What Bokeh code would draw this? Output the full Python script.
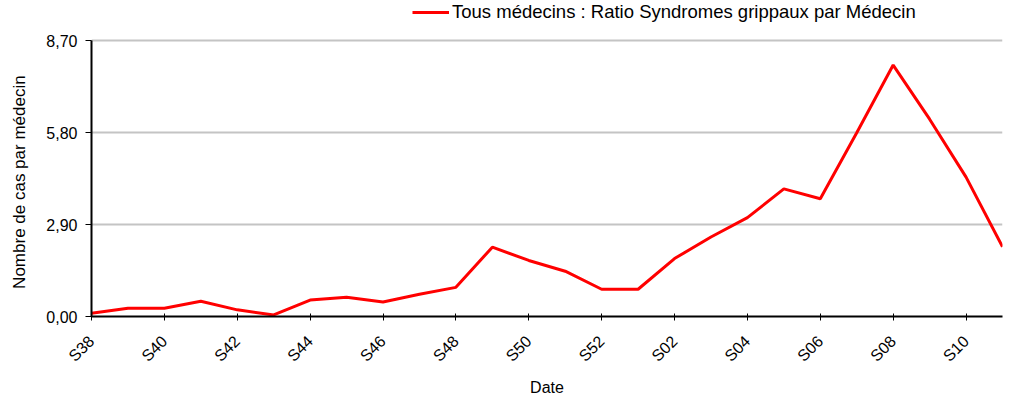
from bokeh.plotting import figure
from bokeh.models import (ColumnDataSource, FixedTicker, CustomJSTickFormatter,
                          Legend, LegendItem, Range1d)
from bokeh.embed import file_html
from bokeh.resources import INLINE
import math

weeks = ["S38", "S39", "S40", "S41", "S42", "S43", "S44", "S45", "S46", "S47",
         "S48", "S49", "S50", "S51", "S52", "S01", "S02", "S03", "S04", "S05",
         "S06", "S07", "S08", "S09", "S10", "S11"]
ratio = [0.10, 0.26, 0.26, 0.48, 0.21, 0.05, 0.52, 0.61, 0.46, 0.70,
         0.92, 2.19, 1.77, 1.43, 0.86, 0.86, 1.83, 2.51, 3.12, 4.03,
         3.72, 5.80, 7.94, 6.23, 4.40, 2.20]
y_ticks = [0.0, 2.9, 5.8, 8.7]
series_name = "Tous médecins : Ratio Syndromes grippaux par Médecin"
y_title = "Nombre de cas par médecin"

FONT = "Liberation Sans"

# layout (pixels)
W, H = 1007, 398
LEFT, RIGHT, TOP, BOTTOM = 91, 5, 0, 78
FRAME_H = H - TOP - BOTTOM
AXIS_PX = 279  # pixel height of the 0 .. 8.70 span
y_top = y_ticks[-1] * FRAME_H / AXIS_PX  # extra head-room for the legend

xs = list(range(len(weeks)))
src = ColumnDataSource(dict(x=xs, y=ratio, week=weeks))

p = figure(width=W, height=H, output_backend="svg", toolbar_location=None,
           x_range=Range1d(0, len(weeks) - 1), y_range=Range1d(0, y_top),
           min_border_left=LEFT, min_border_right=RIGHT, min_border_top=TOP,
           min_border_bottom=BOTTOM)
p.outline_line_color = None
p.background_fill_color = "white"

r = p.line("x", "y", source=src, line_color="#ff0000", line_width=3)

# x axis
label_ticks = xs[::2]
p.xaxis.ticker = FixedTicker(ticks=label_ticks)
p.xaxis.major_label_overrides = {i: weeks[i] for i in label_ticks}
p.xaxis.major_label_orientation = math.pi / 4
p.xaxis.axis_label = "Date"
p.xaxis.minor_tick_line_color = None
p.xaxis.major_tick_in = 3
p.xaxis.major_tick_out = 4
p.xaxis.axis_line_width = 2
p.xaxis.major_label_standoff = 18
p.xaxis.axis_label_standoff = 5

# y axis (non-breaking padding centres the title on the 0..8,70 span)
p.yaxis.ticker = FixedTicker(ticks=y_ticks)
p.yaxis.bounds = (y_ticks[0], y_ticks[-1])
p.yaxis.formatter = CustomJSTickFormatter(code="return tick.toFixed(2).replace('.', ',');")
p.yaxis.axis_label = y_title + "\u00a0" * 10
p.yaxis.minor_tick_line_color = None
p.yaxis.major_tick_in = 0
p.yaxis.major_tick_out = 6
p.yaxis.axis_line_width = 2
p.yaxis.major_label_standoff = 8
p.yaxis.axis_label_standoff = 14

for ax in (p.xaxis, p.yaxis):
    ax.axis_line_color = "black"
    ax.major_tick_line_color = "black"
    ax.major_label_text_font = FONT
    ax.major_label_text_font_size = "16px"
    ax.major_label_text_color = "black"
    ax.axis_label_text_font = FONT
    ax.axis_label_text_font_size = "16px"
    ax.axis_label_text_font_style = "normal"
    ax.axis_label_text_color = "black"
p.yaxis.axis_label_text_font_size = "17px"

p.xgrid.grid_line_color = None
p.ygrid.ticker = FixedTicker(ticks=y_ticks)
p.ygrid.grid_line_color = "#c4c4c4"
p.ygrid.grid_line_width = 2

legend = Legend(items=[LegendItem(label=series_name, renderers=[r])],
                location=(321, FRAME_H - 27), orientation="horizontal",
                border_line_color=None, background_fill_alpha=0,
                label_text_font=FONT, label_text_font_size="18.5px",
                label_text_color="black",
                label_height=20, glyph_height=20,
                glyph_width=37, label_standoff=3, padding=0, margin=0)
p.add_layout(legend)

open("out.html", "w").write(file_html(p, INLINE))
